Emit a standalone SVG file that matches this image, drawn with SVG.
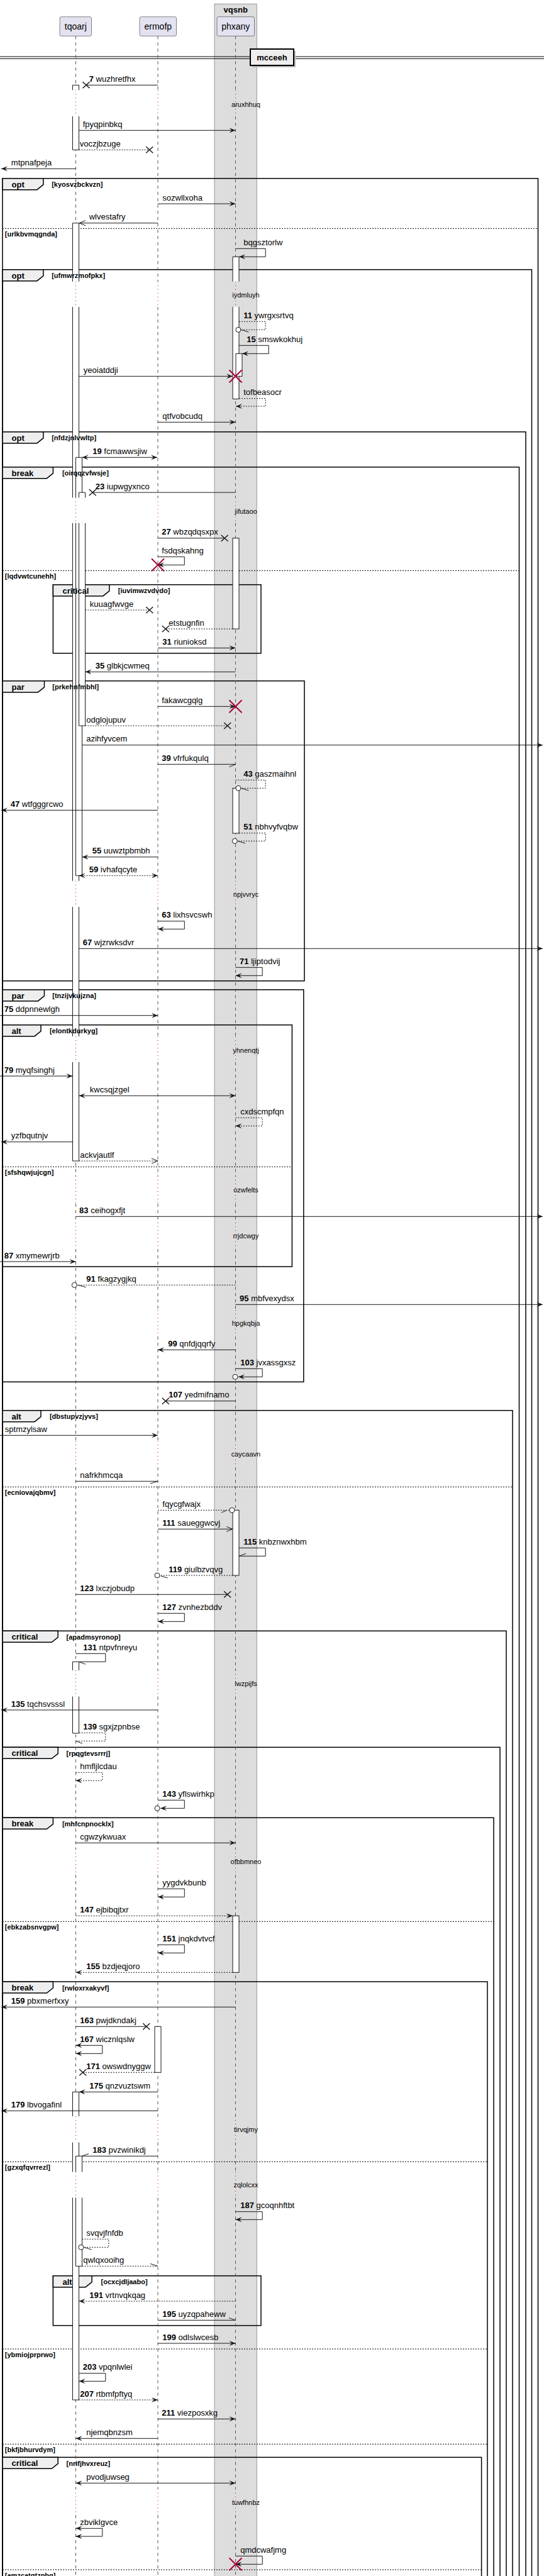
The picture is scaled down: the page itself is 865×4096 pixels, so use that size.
<svg xmlns="http://www.w3.org/2000/svg" width="865" height="4096" viewBox="0 0 865 4096">
<defs>
<style>
.t{font-family:"Liberation Sans",Arial,sans-serif;font-size:13px;fill:#000}
.s{font-size:11px}
.kw{font-weight:bold}
.fl{font-size:11px;font-weight:bold}
.fr{fill:none;stroke:#000;stroke-width:1.5}
.tab{fill:#EEEEEE;stroke:#000;stroke-width:1.5}
.sep{fill:none;stroke:#000;stroke-width:1;stroke-dasharray:2,2}
.ll{fill:none;stroke:#555;stroke-width:1;stroke-dasharray:5,5}
.dl{fill:none;stroke:#A80036;stroke-width:1;stroke-dasharray:1,5}
.aw{fill:#fff;stroke:none}
.al{fill:none;stroke:#181818;stroke-width:1}
.ab{fill:#fff;stroke:#181818;stroke-width:1}
.m{fill:none;stroke:#181818;stroke-width:1}
.dsh{stroke-dasharray:2,2}
.x{fill:none;stroke:#181818;stroke-width:1.5}
.rx{fill:none;stroke:#A80036;stroke-width:2}
.c{fill:#fff;stroke:#181818;stroke-width:1}
.pb{fill:#E2E2F0;stroke:#181818;stroke-width:0.5}
</style>
<marker id="af" markerUnits="userSpaceOnUse" markerWidth="12" markerHeight="10" viewBox="-1 -1 12 10" refX="10" refY="4" orient="auto-start-reverse" overflow="visible"><path d="M0,0L10,4L0,8L4,4Z" fill="#181818"/></marker>
<marker id="ao" markerUnits="userSpaceOnUse" markerWidth="12" markerHeight="10" viewBox="-1 -1 12 10" refX="10" refY="4" orient="auto-start-reverse" overflow="visible"><path d="M0,0L10,4L0,8" fill="none" stroke="#181818" stroke-width="1"/></marker>
</defs>
<rect x="0" y="0" width="865" height="4096" fill="#fff"/>
<g id="box-vqsnb"><rect x="341" y="6.3" width="67.3" height="4100" fill="#DDDDDD" stroke="#999" stroke-width="1"/><text class="t kw" x="374.7" y="19.5" text-anchor="middle">vqsnb</text></g>
<g id="divider-mcceeh"><path d="M0 90H865M0 93.3H865" stroke="#000" stroke-width="1"/><rect x="401" y="81" width="69" height="26" fill="#BBB" stroke="none"/><rect x="398" y="78" width="69" height="26" fill="#EEEEEE" stroke="#000" stroke-width="2"/><text class="t kw" x="432.5" y="95.5" text-anchor="middle">mcceeh</text></g>
<g id="frames">
<g id="f-opt1"><rect class="fr" x="4" y="283.7" width="851.5" height="3826.3"/><polygon class="tab" points="4,283.7 68.9,283.7 68.9,293.7 58.9,301.7 4,301.7"/><path class="sep" d="M4 363.3H855.5"/></g>
<g id="f-opt2"><rect class="fr" x="4" y="428.7" width="841.5" height="3681.3"/><polygon class="tab" points="4,428.7 68.9,428.7 68.9,438.7 58.9,446.7 4,446.7"/></g>
<g id="f-opt3"><rect class="fr" x="4" y="686.7" width="832" height="3423.3"/><polygon class="tab" points="4,686.7 68.9,686.7 68.9,696.7 58.9,704.7 4,704.7"/></g>
<g id="f-break1"><rect class="fr" x="4" y="742.7" width="821.5" height="3367.3"/><polygon class="tab" points="4,742.7 84.4,742.7 84.4,752.7 74.4,760.7 4,760.7"/><path class="sep" d="M4 907.3H825.5"/></g>
<g id="f-critical1"><rect class="fr" x="84.4" y="929.7" width="330.6" height="109"/><polygon class="tab" points="84.4,929.7 173.9,929.7 173.9,939.7 163.9,947.7 84.4,947.7"/></g>
<g id="f-par1"><rect class="fr" x="4" y="1082.7" width="480" height="477"/><polygon class="tab" points="4,1082.7 70.5,1082.7 70.5,1092.7 60.5,1100.7 4,1100.7"/></g>
<g id="f-par2"><rect class="fr" x="4" y="1573.7" width="478.8" height="623.6"/><polygon class="tab" points="4,1573.7 70.5,1573.7 70.5,1583.7 60.5,1591.7 4,1591.7"/></g>
<g id="f-alt1"><rect class="fr" x="4" y="1629.7" width="460.4" height="384.3"/><polygon class="tab" points="4,1629.7 65,1629.7 65,1639.7 55,1647.7 4,1647.7"/><path class="sep" d="M4 1855.3H464.4"/></g>
<g id="f-alt2"><rect class="fr" x="4" y="2242.7" width="811" height="1867.3"/><polygon class="tab" points="4,2242.7 65,2242.7 65,2252.7 55,2260.7 4,2260.7"/><path class="sep" d="M4 2364.3H815"/></g>
<g id="f-critical2"><rect class="fr" x="4" y="2593.3" width="801" height="1516.7"/><polygon class="tab" points="4,2593.3 92.2,2593.3 92.2,2603.3 82.2,2611.3 4,2611.3"/></g>
<g id="f-critical3"><rect class="fr" x="4" y="2778.3" width="791" height="1331.7"/><polygon class="tab" points="4,2778.3 92.2,2778.3 92.2,2788.3 82.2,2796.3 4,2796.3"/></g>
<g id="f-break2"><rect class="fr" x="4" y="2890.3" width="781" height="1219.7"/><polygon class="tab" points="4,2890.3 84.4,2890.3 84.4,2900.3 74.4,2908.3 4,2908.3"/><path class="sep" d="M4 3055.3H785"/></g>
<g id="f-break3"><rect class="fr" x="4" y="3151" width="771" height="959"/><polygon class="tab" points="4,3151 84.4,3151 84.4,3161 74.4,3169 4,3169"/><path class="sep" d="M4 3437.3H775M4 3735H775M4 3886.3H775"/></g>
<g id="f-alt3"><rect class="fr" x="84.4" y="3618.7" width="330.6" height="79"/><polygon class="tab" points="84.4,3618.7 146.1,3618.7 146.1,3628.7 136.1,3636.7 84.4,3636.7"/></g>
<g id="f-critical4"><rect class="fr" x="4" y="3907.3" width="761.6" height="202.7"/><polygon class="tab" points="4,3907.3 92.2,3907.3 92.2,3917.3 82.2,3925.3 4,3925.3"/><path class="sep" d="M4 4086H765.6"/></g>
</g>
<g id="lifelines">
<path class="ll" d="M120.5 57.3V143.3M120.5 185V447.7M120.5 488V791.3M120.5 831.7V1400.7M120.5 1442V1648M120.5 1688.7V1870M120.5 1914V1944M120.5 1986V2083M120.5 2125V2291M120.5 2333V2656M120.5 2697.5V2940M120.5 2981V3365M120.5 3406.5V3453.5M120.5 3494.5V3957.5M120.5 3999V4096"/>
<path class="ll" d="M251 57.3V143.3M251 185V447.7M251 488V791.3M251 831.7V1400.7M251 1442V1648M251 1688.7V1870M251 1914V1944M251 1986V2083M251 2125V2291M251 2333V2656M251 2697.5V2940M251 2981V3365M251 3406.5V3453.5M251 3494.5V3957.5M251 3999V4096"/>
<path class="ll" d="M374.5 57.3V143.3M374.5 185V447.7M374.5 488V791.3M374.5 831.7V1400.7M374.5 1442V1648M374.5 1688.7V1870M374.5 1914V1944M374.5 1986V2083M374.5 2125V2291M374.5 2333V2656M374.5 2697.5V2940M374.5 2981V3365M374.5 3406.5V3453.5M374.5 3494.5V3957.5M374.5 3999V4096"/>
<path class="dl" d="M120.5 143.3V185M120.5 447.7V488M120.5 791.3V831.7M120.5 1400.7V1442M120.5 1648V1688.7M120.5 1870V1914M120.5 1944V1986M120.5 2083V2125M120.5 2291V2333M120.5 2656V2697.5M120.5 2940V2981M120.5 3365V3406.5M120.5 3453.5V3494.5M120.5 3957.5V3999"/>
<path class="dl" d="M251 143.3V185M251 447.7V488M251 791.3V831.7M251 1400.7V1442M251 1648V1688.7M251 1870V1914M251 1944V1986M251 2083V2125M251 2291V2333M251 2656V2697.5M251 2940V2981M251 3365V3406.5M251 3453.5V3494.5M251 3957.5V3999"/>
<path class="dl" d="M374.5 143.3V185M374.5 447.7V488M374.5 791.3V831.7M374.5 1400.7V1442M374.5 1648V1688.7M374.5 1870V1914M374.5 1944V1986M374.5 2083V2125M374.5 2291V2333M374.5 2656V2697.5M374.5 2940V2981M374.5 3365V3406.5M374.5 3453.5V3494.5M374.5 3957.5V3999"/>
</g>
<g id="activations">
<rect class="aw" x="115.5" y="135.3" width="10" height="8"/><rect class="aw" x="115.5" y="185" width="10" height="53.3"/>
<path class="al" d="M115.5 143.3V135.3H125.5V143.3M115.5 185V238.3H125.5V185"/>
<rect class="aw" x="115.5" y="354.7" width="10" height="93"/><rect class="aw" x="115.5" y="488" width="10" height="303.3"/><rect class="aw" x="115.5" y="831.7" width="10" height="569"/><rect class="aw" x="115.5" y="1442" width="10" height="206"/><rect class="aw" x="115.5" y="1688.7" width="10" height="157.3"/>
<path class="al" d="M115.5 447.7V354.7H125.5V447.7M115.5 488V791.3M125.5 488V791.3M115.5 831.7V1400.7M125.5 831.7V1400.7M115.5 1442V1648M125.5 1442V1648M115.5 1688.7V1846H125.5V1688.7"/>
<rect class="aw" x="120.5" y="727.3" width="10" height="64"/><rect class="aw" x="120.5" y="831.7" width="10" height="560.6"/>
<path class="al" d="M120.5 791.3V727.3H130.5V791.3M120.5 831.7V1392.3H130.5V831.7"/>
<rect class="aw" x="125.5" y="783" width="10" height="8.3"/><rect class="aw" x="125.5" y="831.7" width="10" height="322.3"/>
<path class="al" d="M125.5 791.3V783H135.5V791.3M125.5 831.7V1154H135.5V831.7"/>
<rect class="aw" x="115.5" y="2642.3" width="10" height="13.7"/><rect class="aw" x="115.5" y="2697.5" width="10" height="58.5"/>
<path class="al" d="M115.5 2656V2642.3H125.5V2656M115.5 2697.5V2756H125.5V2697.5"/>
<rect class="aw" x="115.5" y="3326.3" width="10" height="38.7"/><rect class="aw" x="115.5" y="3406.5" width="10" height="47"/><rect class="aw" x="115.5" y="3494.5" width="10" height="321.5"/>
<path class="al" d="M115.5 3365V3326.3H125.5V3365M115.5 3406.5V3453.5M125.5 3406.5V3453.5M115.5 3494.5V3816H125.5V3494.5"/>
<rect class="aw" x="120.5" y="3428.3" width="10" height="25.2"/><rect class="aw" x="120.5" y="3494.5" width="10" height="108.8"/>
<path class="al" d="M120.5 3453.5V3428.3H130.5V3453.5M120.5 3494.5V3603.3H130.5V3494.5"/>
<rect class="ab" x="246" y="3222.3" width="10" height="73"/>
<rect class="aw" x="370" y="408.3" width="10" height="39.4"/><rect class="aw" x="370" y="488" width="10" height="146.3"/>
<path class="al" d="M370 447.7V408.3H380V447.7M370 488V634.3H380V488"/>
<rect class="ab" x="375" y="562.3" width="10" height="36"/>
<rect class="ab" x="370" y="855.7" width="10" height="144.3"/>
<rect class="ab" x="370" y="1253.3" width="10" height="71.7"/>
<rect class="ab" x="370" y="2401.3" width="10" height="103.7"/>
<rect class="ab" x="370" y="3046.3" width="10" height="90"/>
</g>
<g id="connectors">
<path class="m" d="M251 135.3H137"/><path class="x" d="M131.5 130.3L142.5 140.3M131.5 140.3L142.5 130.3"/>
<path class="m" d="M125.5 207.3H374.5" marker-end="url(#af)"/>
<path class="m dsh" d="M125.5 238.3H237.8"/><path class="x" d="M232.3 233.3L243.3 243.3M232.3 243.3L243.3 233.3"/>
<path class="m" d="M120.5 268.3H2" marker-end="url(#af)"/>
<path class="m" d="M251 324H374.5" marker-end="url(#af)"/>
<path class="m" d="M251 354.7H126" marker-end="url(#ao)"/>
<path class="m" d="M374.5 395.3H422.2V408.3H380" marker-end="url(#af)"/>
<path class="m dsh" d="M380 511.3H422.2V524.3H382.9"/><circle class="c" cx="378.9" cy="524.3" r="4"/><path class="m" d="M383.3 524.3L395.5 528"/>
<path class="m" d="M380 549.3H427.2V562.3H385" marker-end="url(#af)"/>
<path class="m" d="M125.5 598.3H370" marker-end="url(#af)"/><path class="rx" d="M364.5 588.3L384.5 608.3M364.5 608.3L384.5 588.3"/>
<path class="m dsh" d="M380 633.7H422.2V646H375" marker-end="url(#af)"/>
<path class="m" d="M251 671.3H374.5" marker-end="url(#af)"/>
<path class="m" d="M130.5 727.3H250" marker-start="url(#af)" marker-end="url(#af)"/>
<path class="m" d="M374.5 783H147.2"/><path class="x" d="M141.7 778L152.7 788M141.7 788L152.7 778"/>
<path class="m" d="M251 855.7H357.2"/><path class="x" d="M351.7 850.7L362.7 860.7M351.7 860.7L362.7 850.7"/>
<path class="m" d="M251 885.3H293.3V898.3H251" marker-end="url(#af)"/><path class="rx" d="M241 888.3L261 908.3M241 908.3L261 888.3"/>
<path class="m dsh" d="M135.5 970H237.8"/><path class="x" d="M232.3 965L243.3 975M232.3 975L243.3 965"/>
<path class="m dsh" d="M370 1000H263.3"/><path class="x" d="M257.8 995L268.8 1005M257.8 1005L268.8 995"/>
<path class="m" d="M251 1030.3H374.5" marker-end="url(#af)"/>
<path class="m" d="M374.5 1068.3H135.5" marker-end="url(#af)"/>
<path class="m" d="M251 1123.3H374.5" marker-end="url(#af)"/><path class="rx" d="M364.5 1113.3L384.5 1133.3M364.5 1133.3L384.5 1113.3"/>
<path class="m dsh" d="M135.5 1154H361.7"/><path class="x" d="M356.2 1149L367.2 1159M356.2 1159L367.2 1149"/>
<path class="m" d="M130.5 1184.7H863" marker-end="url(#af)"/>
<path class="m" d="M251 1215.3H374.5L364.5 1219.3"/>
<path class="m dsh" d="M374.5 1240.3H422.2V1253.3H382.9"/><circle class="c" cx="378.9" cy="1253.3" r="4"/><path class="m" d="M383.3 1253.3L395.5 1257"/>
<path class="m" d="M251 1288.3H2" marker-end="url(#af)"/>
<path class="m dsh" d="M380 1324.7H422.2V1337.3H377.3"/><circle class="c" cx="373.3" cy="1337.3" r="4"/><path class="m" d="M377.8 1337.3L390 1341"/>
<path class="m" d="M251 1362.7H130.5" marker-end="url(#af)"/>
<path class="m dsh" d="M125.5 1392.3H251" marker-start="url(#af)" marker-end="url(#af)"/>
<path class="m" d="M251 1464.7H293.3V1477.3H251" marker-end="url(#af)"/>
<path class="m" d="M125.5 1508.3H863" marker-end="url(#af)"/>
<path class="m" d="M374.5 1538.3H417.2V1551.3H374.5" marker-end="url(#af)"/>
<path class="m" d="M0 1614.7H251" marker-end="url(#af)"/>
<path class="m" d="M0 1711H115.5" marker-end="url(#af)"/>
<path class="m" d="M125.5 1742.3H374.5" marker-start="url(#af)" marker-end="url(#af)"/>
<path class="m dsh" d="M374.5 1777.3H417.2V1790.3H374.5" marker-end="url(#af)"/>
<path class="m" d="M115.5 1815.7H2" marker-end="url(#af)"/>
<path class="m dsh" d="M125.5 1846H251" marker-end="url(#ao)"/>
<path class="m" d="M120.5 1934.3H863" marker-end="url(#af)"/>
<path class="m" d="M0 2006H120.5" marker-end="url(#af)"/>
<path class="m dsh" d="M374.5 2043.3H122.3"/><circle class="c" cx="118.3" cy="2043.3" r="4"/><path class="m" d="M123.3 2043.3L136.7 2046.7"/>
<path class="m" d="M374.5 2074.3H863" marker-end="url(#af)"/>
<path class="m" d="M374.5 2146.3H251" marker-end="url(#af)"/>
<path class="m" d="M374.5 2176.3H417.2V2189.3H379" marker-end="url(#af)"/><circle class="c" cx="373.9" cy="2189.3" r="4"/>
<path class="m" d="M374.5 2227.7H263.3"/><path class="x" d="M257.8 2222.7L268.8 2232.7M257.8 2232.7L268.8 2222.7"/>
<path class="m" d="M0 2282.3H251" marker-end="url(#af)"/>
<path class="m" d="M120.5 2355.3H251L239 2359"/>
<path class="m dsh" d="M251 2401.3H364.9"/><circle class="c" cx="368.9" cy="2401.3" r="4"/><path class="m" d="M361.1 2401.3L352.2 2405"/>
<path class="m" d="M251 2431.3H370" marker-end="url(#ao)"/>
<path class="m" d="M380 2461.3H422.2V2474.3H380L391 2470.3"/>
<path class="m dsh" d="M370 2505H254"/><circle class="c" cx="250" cy="2505" r="4"/><path class="m" d="M255.5 2506L266.7 2509"/>
<path class="m" d="M120.5 2535.3H361.7"/><path class="x" d="M356.2 2530.3L367.2 2540.3M356.2 2540.3L367.2 2530.3"/>
<path class="m" d="M251 2565.3H293.3V2578.3H251" marker-end="url(#af)"/>
<path class="m" d="M120.5 2629.3H167.8V2642.3H125.5L136 2646.3"/>
<path class="m" d="M251 2719H2" marker-end="url(#af)"/>
<path class="m dsh" d="M125.5 2755.3H167.8V2768.3H120.5"/><path class="m" d="M120.5 2768.3L131 2772.3"/>
<path class="m dsh" d="M120.5 2818.3H162.8V2831.3H120.5" marker-end="url(#af)"/>
<path class="m" d="M251 2862.3H293.3V2875.3H255" marker-end="url(#af)"/><circle class="c" cx="250" cy="2875.3" r="4"/>
<path class="m" d="M120.5 2930.3H374.5" marker-end="url(#af)"/>
<path class="m" d="M251 3003.3H293.3V3016.3H251" marker-end="url(#af)"/>
<path class="m dsh" d="M120.5 3046.3H370" marker-end="url(#af)"/>
<path class="m" d="M251 3092.3H293.3V3105.3H251" marker-end="url(#af)"/>
<path class="m dsh" d="M370 3136.3H120.5" marker-end="url(#af)"/>
<path class="m" d="M374.5 3191.3H2" marker-end="url(#af)"/>
<path class="m" d="M120.5 3222.3H232.8"/><path class="x" d="M227.3 3217.3L238.3 3227.3M227.3 3227.3L238.3 3217.3"/>
<path class="m" d="M120.5 3252.3H162.8V3265.3H120.5" marker-start="url(#af)" marker-end="url(#af)"/>
<path class="m dsh" d="M246 3295.3H131.7"/><path class="x" d="M126.2 3290.3L137.2 3300.3M126.2 3300.3L137.2 3290.3"/>
<path class="m" d="M251 3326.3H125.5" marker-end="url(#af)"/>
<path class="m" d="M251 3356.3H2" marker-end="url(#af)"/>
<path class="m" d="M251 3428.3H130.5L141 3424.5"/>
<path class="m" d="M374.5 3516.7H417.2V3529.3H374.5" marker-end="url(#af)"/>
<path class="m dsh" d="M130.5 3560.3H172.8V3573.3H132.9"/><circle class="c" cx="128.9" cy="3573.3" r="4"/><path class="m" d="M133.3 3573.3L145.6 3577"/>
<path class="m dsh" d="M130.5 3603.3H251"/><path class="m" d="M251 3603.3L239 3599.5"/>
<path class="m dsh" d="M374.5 3659H125.5" marker-end="url(#af)"/>
<path class="m" d="M251 3689.3H374.5L364 3685.5"/>
<path class="m" d="M251 3726H374.5" marker-end="url(#af)"/>
<path class="m" d="M125.5 3773.7H167.8V3786.3H125.5" marker-end="url(#af)"/>
<path class="m dsh" d="M125.5 3816H251" marker-end="url(#af)"/>
<path class="m" d="M251 3846.3H374.5" marker-end="url(#af)"/>
<path class="m" d="M251 3877.3H120.5" marker-end="url(#af)"/>
<path class="m" d="M120.5 3948.3H374.5" marker-start="url(#af)" marker-end="url(#af)"/>
<path class="m" d="M120.5 4020.3H162.8V4033H120.5" marker-start="url(#af)" marker-end="url(#af)"/>
<path class="m" d="M374.5 4064.3H417.2V4077.3H374.5" marker-end="url(#af)"/><path class="rx" d="M364.5 4067.3L384.5 4087.3M364.5 4087.3L384.5 4067.3"/>
</g>
<g id="frame-labels" class="t">
<text class="kw" x="18.5" y="297.7">opt</text><text class="fl" x="82.2" y="297.2">[kyosvzbckvzn]</text>
<text class="fl" x="7.8" y="375.8">[urlkbvmqgnda]</text>
<text class="kw" x="18.5" y="442.7">opt</text><text class="fl" x="82.2" y="442.2">[ufmwrzmofpkx]</text>
<text class="kw" x="18.5" y="700.7">opt</text><text class="fl" x="82.2" y="700.2">[nfdzjnlvwltp]</text>
<text class="kw" x="18.5" y="756.7">break</text><text class="fl" x="98.9" y="756.2">[oirqqzvfwsje]</text>
<text class="fl" x="7.8" y="919.8">[lqdvwtcunehh]</text>
<text class="kw" x="99.5" y="943.7">critical</text><text class="fl" x="187.8" y="943.2">[iuvimwzvdvdo]</text>
<text class="kw" x="18.5" y="1096.7">par</text><text class="fl" x="83.3" y="1096.2">[prkehnfmbhl]</text>
<text class="kw" x="18.5" y="1587.7">par</text><text class="fl" x="83.3" y="1587.2">[tnzijvkujzna]</text>
<text class="kw" x="18.5" y="1643.7">alt</text><text class="fl" x="78.9" y="1643.2">[elontkdurkyg]</text>
<text class="fl" x="7.8" y="1867.8">[sfshqwjujcgn]</text>
<text class="kw" x="18.5" y="2256.7">alt</text><text class="fl" x="78.9" y="2256.2">[dbstupvzjyvs]</text>
<text class="fl" x="7.8" y="2376.8">[ecniovajqbmv]</text>
<text class="kw" x="18.5" y="2607.3">critical</text><text class="fl" x="105.6" y="2606.8">[apadmsyronop]</text>
<text class="kw" x="18.5" y="2792.3">critical</text><text class="fl" x="105.6" y="2791.8">[rpqgtevsrrrj]</text>
<text class="kw" x="18.5" y="2904.3">break</text><text class="fl" x="98.9" y="2903.8">[mhfcnpnocklx]</text>
<text class="fl" x="7.8" y="3067.8">[ebkzabsnvgpw]</text>
<text class="kw" x="18.5" y="3165">break</text><text class="fl" x="98.9" y="3164.5">[rwloxrxakyvf]</text>
<text class="fl" x="7.8" y="3449.8">[gzxqfqvrrezl]</text>
<text class="kw" x="99.5" y="3632.7">alt</text><text class="fl" x="160.6" y="3632.2">[ocxcjdljaabo]</text>
<text class="fl" x="7.8" y="3747.5">[ybmiojprprwo]</text>
<text class="fl" x="7.8" y="3898.8">[bkfjbhurvdym]</text>
<text class="kw" x="18.5" y="3921.3">critical</text><text class="fl" x="105.6" y="3920.8">[nrifjhvxreuz]</text>
<text class="fl" x="7.8" y="4098.5">[amzcatqtzpbq]</text>
</g>
<g id="delay-labels" class="t s" text-anchor="middle">
<text x="391" y="169.7">aruxhhuq</text>
<text x="391" y="473.3">iydmluyh</text>
<text x="391" y="817.3">jifutaoo</text>
<text x="391" y="1426.3">npjvvryc</text>
<text x="391" y="1673.7">yhnenqtj</text>
<text x="391" y="1896.3">ozwfelts</text>
<text x="391" y="1969">rrjdcwgy</text>
<text x="391" y="2108.3">hpgkqbja</text>
<text x="391" y="2316.3">caycaavn</text>
<text x="391" y="2681.3">lwzpijfs</text>
<text x="391" y="2964.3">ofbbmneo</text>
<text x="391" y="3390.3">tirvqjmy</text>
<text x="391" y="3478.3">zqlolcxx</text>
<text x="391" y="3982.7">tuwfhnbz</text>
</g>
<g id="message-labels" class="t">
<text x="141.7" y="129.8"><tspan class="kw">7</tspan> wuzhretfhx</text>
<text x="131.7" y="201.8">fpyqpinbkq</text>
<text x="126.7" y="232.8">voczjbzuge</text>
<text x="17.8" y="262.8">mtpnafpeja</text>
<text x="258.3" y="318.5">sozwllxoha</text>
<text x="141.7" y="349.2">wlvestafry</text>
<text x="387.2" y="389.8">bqgsztorlw</text>
<text x="387.2" y="505.8"><tspan class="kw">11</tspan> ywrgxsrtvq</text>
<text x="392.2" y="543.8"><tspan class="kw">15</tspan> smswkokhuj</text>
<text x="132.8" y="592.8">yeoiatddji</text>
<text x="387.2" y="628.2">tofbeasocr</text>
<text x="258.3" y="665.8">qtfvobcudq</text>
<text x="147.2" y="721.8"><tspan class="kw">19</tspan> fcmawwsjiw</text>
<text x="151.7" y="777.5"><tspan class="kw">23</tspan> iupwgyxnco</text>
<text x="257.2" y="850.2"><tspan class="kw">27</tspan> wbzqdqsxpx</text>
<text x="257.2" y="879.8">fsdqskahng</text>
<text x="142.8" y="964.5">kuuagfwvge</text>
<text x="268.3" y="994.5">etstugnfin</text>
<text x="258.3" y="1024.8"><tspan class="kw">31</tspan> riunioksd</text>
<text x="151.7" y="1062.8"><tspan class="kw">35</tspan> glbkjcwmeq</text>
<text x="257.2" y="1117.8">fakawcgqlg</text>
<text x="137.2" y="1148.5">odglojupuv</text>
<text x="137.2" y="1179.2">azihfyvcem</text>
<text x="257.2" y="1209.8"><tspan class="kw">39</tspan> vfrfukqulq</text>
<text x="387.2" y="1234.8"><tspan class="kw">43</tspan> gaszmaihnl</text>
<text x="16.7" y="1282.8"><tspan class="kw">47</tspan> wtfgggrcwo</text>
<text x="387.2" y="1319.2"><tspan class="kw">51</tspan> nbhvyfvqbw</text>
<text x="146.7" y="1357.2"><tspan class="kw">55</tspan> uuwztpbmbh</text>
<text x="141.7" y="1386.8"><tspan class="kw">59</tspan> ivhafqcyte</text>
<text x="257.2" y="1459.2"><tspan class="kw">63</tspan> lixhsvcswh</text>
<text x="131.7" y="1502.8"><tspan class="kw">67</tspan> wjzrwksdvr</text>
<text x="381.1" y="1532.8"><tspan class="kw">71</tspan> ljiptodvij</text>
<text x="6.7" y="1609.2"><tspan class="kw">75</tspan> ddpnnewlgh</text>
<text x="6.7" y="1705.5"><tspan class="kw">79</tspan> myqfsinghj</text>
<text x="142.8" y="1736.8">kwcsqjzgel</text>
<text x="382.2" y="1771.8">cxdscmpfqn</text>
<text x="17.8" y="1810.2">yzfbqutnjv</text>
<text x="127.2" y="1840.5">ackvjautlf</text>
<text x="126.1" y="1928.8"><tspan class="kw">83</tspan> ceihogxfjt</text>
<text x="6.7" y="2000.5"><tspan class="kw">87</tspan> xmymewrjrb</text>
<text x="137.2" y="2037.8"><tspan class="kw">91</tspan> fkagzygjkq</text>
<text x="381.1" y="2068.8"><tspan class="kw">95</tspan> mbfvexydsx</text>
<text x="267.2" y="2140.8"><tspan class="kw">99</tspan> qnfdjqqrfy</text>
<text x="382.2" y="2170.8"><tspan class="kw">103</tspan> jvxassgxsz</text>
<text x="268.3" y="2222.2"><tspan class="kw">107</tspan> yedmifnamo</text>
<text x="7.8" y="2276.8">sptmzylsaw</text>
<text x="127.2" y="2349.8">nafrkhmcqa</text>
<text x="258.3" y="2395.8">fqycgfwajx</text>
<text x="258.3" y="2425.8"><tspan class="kw">111</tspan> saueggwcvj</text>
<text x="387.2" y="2455.8"><tspan class="kw">115</tspan> knbznwxhbm</text>
<text x="268.3" y="2499.5"><tspan class="kw">119</tspan> giulbzvqvg</text>
<text x="127.2" y="2529.8"><tspan class="kw">123</tspan> lxczjobudp</text>
<text x="258.3" y="2559.8"><tspan class="kw">127</tspan> zvnhezbddv</text>
<text x="132.2" y="2623.8"><tspan class="kw">131</tspan> ntpvfnreyu</text>
<text x="17.8" y="2713.5"><tspan class="kw">135</tspan> tqchsvsssl</text>
<text x="132.2" y="2749.8"><tspan class="kw">139</tspan> sgxjzpnbse</text>
<text x="127.2" y="2812.8">hmfljlcdau</text>
<text x="258.3" y="2856.8"><tspan class="kw">143</tspan> yflswirhkp</text>
<text x="127.2" y="2924.8">cgwzykwuax</text>
<text x="258.3" y="2997.8">yygdvkbunb</text>
<text x="127.2" y="3040.8"><tspan class="kw">147</tspan> ejbibqjtxr</text>
<text x="258.3" y="3086.8"><tspan class="kw">151</tspan> jnqkdvtvcf</text>
<text x="137.2" y="3130.8"><tspan class="kw">155</tspan> bzdjeqjoro</text>
<text x="17.8" y="3185.8"><tspan class="kw">159</tspan> pbxmerfxxy</text>
<text x="127.2" y="3216.8"><tspan class="kw">163</tspan> pwjdkndakj</text>
<text x="127.2" y="3246.8"><tspan class="kw">167</tspan> wicznlqslw</text>
<text x="137.2" y="3289.8"><tspan class="kw">171</tspan> owswdnyggw</text>
<text x="142.2" y="3320.8"><tspan class="kw">175</tspan> qnzvuztswm</text>
<text x="17.8" y="3350.8"><tspan class="kw">179</tspan> lbvogafinl</text>
<text x="147.2" y="3422.8"><tspan class="kw">183</tspan> pvzwinikdj</text>
<text x="382.2" y="3511.2"><tspan class="kw">187</tspan> gcoqnhftbt</text>
<text x="137.2" y="3554.8">svqvjfnfdb</text>
<text x="132.2" y="3597.8">qwlqxooihg</text>
<text x="142.2" y="3653.5"><tspan class="kw">191</tspan> vrtnvqkqag</text>
<text x="258.3" y="3683.8"><tspan class="kw">195</tspan> uyzqpaheww</text>
<text x="258.3" y="3720.5"><tspan class="kw">199</tspan> odlslwcesb</text>
<text x="131.7" y="3768.2"><tspan class="kw">203</tspan> vpqnlwlei</text>
<text x="127.2" y="3810.5"><tspan class="kw">207</tspan> rtbmfpftyq</text>
<text x="257.2" y="3840.8"><tspan class="kw">211</tspan> viezposxkg</text>
<text x="137.2" y="3871.8">njemqbnzsm</text>
<text x="137.2" y="3942.8">pvodjuwseg</text>
<text x="127.2" y="4014.8">zbviklgvce</text>
<text x="382.2" y="4058.8">qmdcwafjmg</text>
</g>
<g id="p-tqoarj"><rect class="pb" x="95" y="26.7" width="50.5" height="30.6" rx="2.5"/><text class="t" x="120.3" y="47" text-anchor="middle" style="font-size:14px">tqoarj</text></g>
<g id="p-ermofp"><rect class="pb" x="222" y="26.7" width="58.5" height="30.6" rx="2.5"/><text class="t" x="251.3" y="47" text-anchor="middle" style="font-size:14px">ermofp</text></g>
<g id="p-phxany"><rect class="pb" x="345" y="26.7" width="59.5" height="30.6" rx="2.5"/><text class="t" x="374.8" y="47" text-anchor="middle" style="font-size:14px">phxany</text></g>
</svg>
